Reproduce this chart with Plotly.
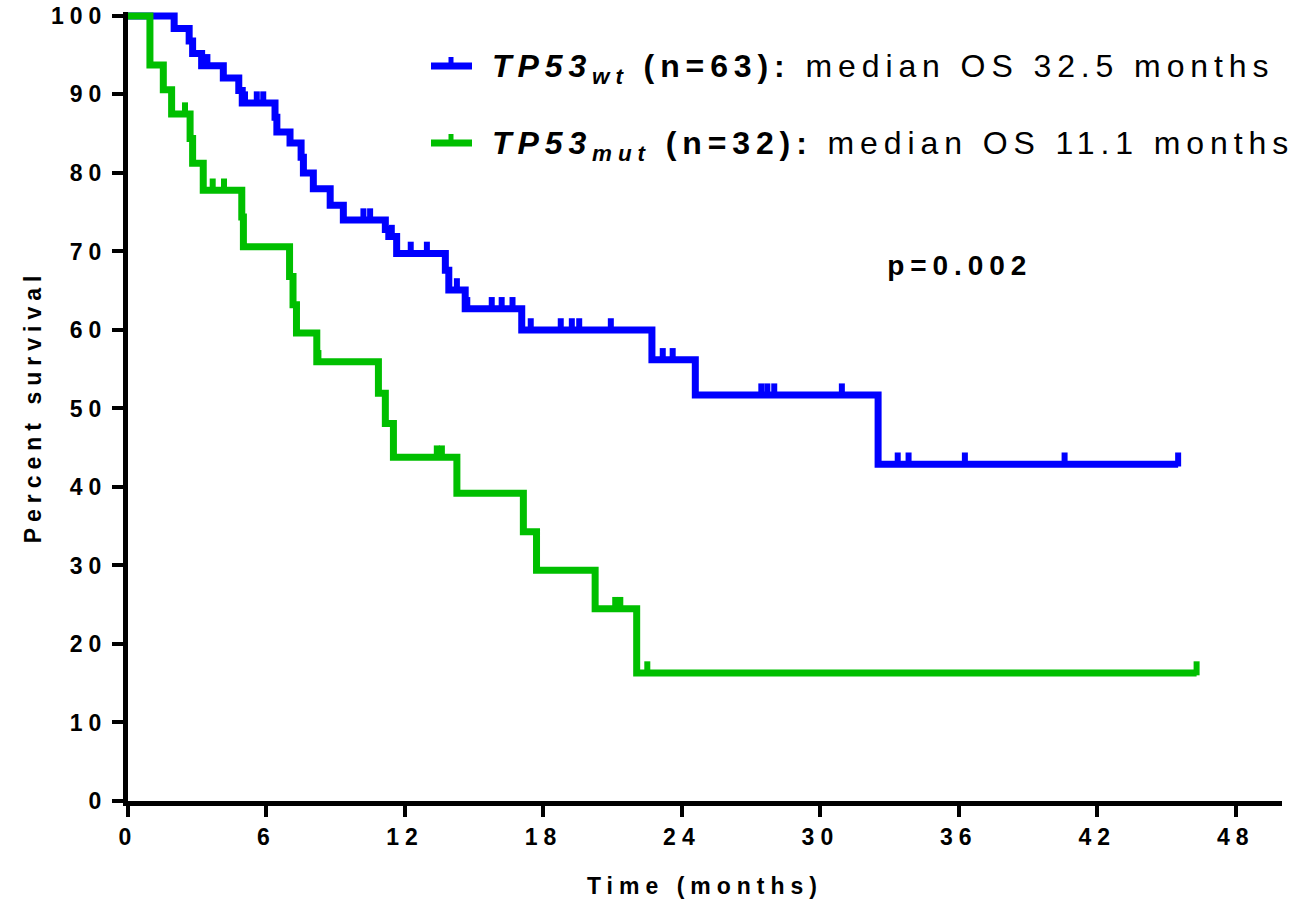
import numpy as np
import plotly.graph_objects as go

# ---------------- data ----------------
wt_step_t = [0, 2.0, 2.65, 2.8, 3.19, 4.13, 4.8, 4.95, 6.37, 6.45, 7.02, 7.5, 7.6, 8.03,
             8.76, 9.33, 11.15, 11.3, 11.64, 13.75, 13.9, 14.61, 17.06, 22.7, 24.58, 32.5]
wt_step_s = [100, 98.4, 96.8, 95.2, 93.65, 92.1, 90.5, 88.9, 87.1, 85.2, 83.8, 82.0, 80.0, 78.0,
             75.9, 74.0, 72.8, 71.9, 69.75, 67.6, 65.1, 62.7, 60.0, 56.2, 51.7, 42.9]
wt_censor_t = [3.44, 5.07, 5.58, 5.86, 10.2, 10.49, 11.43, 12.25, 12.95, 14.25, 14.7, 15.76,
               16.19, 16.66, 17.45, 18.75, 19.23, 19.55, 20.92, 23.17, 23.6, 27.44, 27.7, 28.0,
               30.93, 33.35, 33.82, 36.26, 40.58, 45.5]

mut_step_t = [0, 0.95, 1.53, 1.89, 2.69, 2.8, 3.26, 4.93, 5.0, 7.0, 7.15, 7.3, 8.18, 10.85,
              11.15, 11.5, 14.25, 17.13, 17.7, 20.24, 22.04]
mut_step_s = [100, 93.75, 90.6, 87.5, 84.4, 81.25, 77.8, 74.4, 70.6, 66.8, 63.2, 59.6, 55.95,
              51.95, 48.1, 43.8, 39.2, 34.3, 29.4, 24.5, 16.3]
mut_censor_t = [2.47, 3.67, 4.16, 8.25, 13.38, 13.6, 21.11, 21.33, 22.5, 46.3]

x_ticks = [0, 6, 12, 18, 24, 30, 36, 42, 48]
y_ticks = [0, 10, 20, 30, 40, 50, 60, 70, 80, 90, 100]

wt_label = "<b><i>TP53</i></b><sub><b><i>wt</i></b></sub><b> (n=63):</b> median OS 32.5 months"
mut_label = "<b><i>TP53</i></b><sub><b><i>mut</i></b></sub><b> (n=32):</b> median OS 11.1 months"
p_text = "<b>p=0.002</b>"

BLUE = "#0000FF"
GREEN = "#00BF00"
FONT = "Liberation Sans, Arial, sans-serif"

# ---------------- figure geometry ----------------
W, H = 1304, 901
ML, MR, MT, MB = 128, 22, 12, 100
PW, PH = W - ML - MR, H - MT - MB


def px_to_paper(px, py):
    return (px - ML) / PW, (H - MB - py) / PH


def surv_at(step_t, step_s, t):
    idx = np.searchsorted(np.array(step_t), np.array(t), side="right") - 1
    return np.array(step_s)[idx]


fig = go.Figure()
tick_off = 0.6  # lift censor ticks above the line centre (in % units)
for step_t, step_s, cens, col in [(wt_step_t, wt_step_s, wt_censor_t, BLUE),
                                   (mut_step_t, mut_step_s, mut_censor_t, GREEN)]:
    xs = list(step_t) + [cens[-1]]
    ys = list(step_s) + [step_s[-1]]
    fig.add_trace(go.Scatter(x=xs, y=ys, mode="lines", line=dict(color=col, width=7, shape="hv"),
                             showlegend=False, hoverinfo="skip"))
    cy = surv_at(step_t, step_s, cens) + tick_off
    fig.add_trace(go.Scatter(x=cens, y=cy, mode="markers", cliponaxis=False,
                             marker=dict(symbol="line-ns", size=10,
                                         line=dict(color=col, width=6)),
                             showlegend=False, hoverinfo="skip"))

# legend (manual)
for py, col, label in [(66, BLUE, wt_label), (143, GREEN, mut_label)]:
    x0, y0 = px_to_paper(431, py)
    x1, _ = px_to_paper(472, py)
    xm, yt = px_to_paper(451, py - 9)
    fig.add_shape(type="line", xref="paper", yref="paper", x0=x0, x1=x1, y0=y0, y1=y0,
                  line=dict(color=col, width=7))
    fig.add_shape(type="line", xref="paper", yref="paper", x0=xm, x1=xm, y0=y0, y1=yt,
                  line=dict(color=col, width=5))
    tx, ty = px_to_paper(490, py + 3)
    fig.add_annotation(text=label, xref="paper", yref="paper", x=tx, y=ty,
                       xanchor="left", yanchor="middle", align="left", showarrow=False,
                       font=dict(family=FONT, size=32, color="black"))

px_, py_ = px_to_paper(960, 265)
fig.add_annotation(text=p_text, xref="paper", yref="paper", x=px_, y=py_, xanchor="center",
                   yanchor="middle", showarrow=False,
                   font=dict(family=FONT, size=28, color="black"))

axis_common = dict(showline=True, linecolor="black", linewidth=5, ticks="outside",
                   tickcolor="black", tickwidth=4, ticklen=11, showgrid=False, zeroline=False,
                   automargin=False,
                   tickfont=dict(family=FONT, size=23, color="black", weight="bold"))

fig.update_xaxes(range=[0, 50], tickvals=x_ticks, ticktext=[str(v) for v in x_ticks],
                 title=dict(text="Time (months)", standoff=31,
                            font=dict(family=FONT, size=23, color="black", weight="bold")),
                 **axis_common)
fig.update_yaxes(range=[0, 100.5], tickvals=y_ticks, ticktext=[str(v) for v in y_ticks],
                 title=dict(text="Percent survival", standoff=22,
                            font=dict(family=FONT, size=23, color="black", weight="bold")),
                 **axis_common)

fig.update_layout(template="none", width=W, height=H, margin=dict(l=ML, r=MR, t=MT, b=MB),
                  paper_bgcolor="white", plot_bgcolor="white", showlegend=False,
                  font=dict(family=FONT, color="black"))

post = """
document.body.style.margin = '0';
var gd = document.getElementById('{plot_id}');
gd.querySelectorAll('.xtick text, .ytick text').forEach(function(t){t.style.letterSpacing='6px';});
gd.querySelectorAll('.g-xtitle text, .g-ytitle text').forEach(function(t){t.style.letterSpacing='6px';});
gd.querySelectorAll('.annotation-text').forEach(function(t){t.style.letterSpacing='5.9px';});
"""
fig.write_html("out.html", post_script=post)
